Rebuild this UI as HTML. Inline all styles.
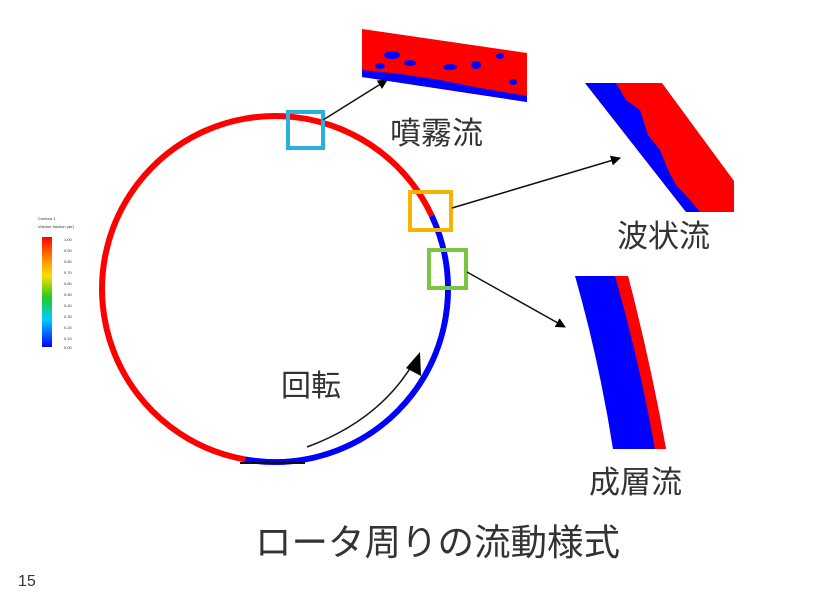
<!DOCTYPE html>
<html><head><meta charset="utf-8"><style>
html,body{margin:0;padding:0;background:#fff;width:816px;height:594px;overflow:hidden}
svg{display:block}
text{font-family:"Liberation Sans","Noto Sans CJK JP",sans-serif;fill:#333}
</style></head><body>
<svg width="816" height="594" viewBox="0 0 816 594" xmlns="http://www.w3.org/2000/svg">
<defs>
<linearGradient id="lg" x1="0" y1="0" x2="0" y2="1">
<stop offset="0" stop-color="#f00"/><stop offset="0.2" stop-color="#f80"/><stop offset="0.35" stop-color="#fd0"/>
<stop offset="0.55" stop-color="#2c2"/><stop offset="0.75" stop-color="#0cf"/><stop offset="1" stop-color="#00f"/>
</linearGradient>
<marker id="ah" markerWidth="10" markerHeight="10" refX="9" refY="5" orient="auto" markerUnits="userSpaceOnUse"><path d="M0,0 L10,5 L0,10 z" fill="#000"/></marker>
</defs>
<text x="38" y="220" font-size="4" fill="#888">Contour 1</text>
<text x="38" y="228" font-size="4" fill="#888">Volume fraction (air)</text>
<rect x="42" y="237" width="10" height="110" fill="url(#lg)"/>
<g font-size="4" fill="#888"><text x="64" y="241">1.00</text><text x="64" y="252">0.90</text><text x="64" y="263">0.80</text><text x="64" y="274">0.70</text><text x="64" y="285">0.60</text><text x="64" y="296">0.50</text><text x="64" y="307">0.40</text><text x="64" y="318">0.30</text><text x="64" y="329">0.20</text><text x="64" y="340">0.10</text><text x="64" y="349">0.00</text></g>
<path d="M245,459.4 A173,173 0 1 1 431.8,215.9" fill="none" stroke="#f00" stroke-width="6"/>
<path d="M431.8,215.9 A173,173 0 0 1 245,459.4" fill="none" stroke="#00f" stroke-width="6"/>
<line x1="240" y1="463" x2="305" y2="463" stroke="#111" stroke-width="2"/>
<path d="M307,447 Q380,420 414,362" fill="none" stroke="#111" stroke-width="1.5"/>
<path d="M420,352 L421,376 L406,368 z" fill="#000"/>
<text x="281" y="396" font-size="30">回転</text>
<rect x="288" y="112" width="35" height="36" fill="none" stroke="#2ab0e0" stroke-width="4"/>
<rect x="410" y="192" width="41" height="38" fill="none" stroke="#f5b400" stroke-width="4"/>
<rect x="429" y="250" width="37" height="38" fill="none" stroke="#7cc444" stroke-width="4"/>
<line x1="323" y1="120" x2="387" y2="80" stroke="#111" stroke-width="1.5" marker-end="url(#ah)"/>
<line x1="452" y1="208" x2="620" y2="158" stroke="#111" stroke-width="1.5" marker-end="url(#ah)"/>
<line x1="467" y1="272" x2="565" y2="327" stroke="#111" stroke-width="1.5" marker-end="url(#ah)"/>
<polygon points="362,29 527,53 527,102 362,77" fill="#f00"/>
<path d="M362,70 L400,74 L440,80 L480,88 L527,96 L527,102 L362,77z" fill="#00f"/>
<g fill="#00f"><ellipse cx="392" cy="55" rx="8" ry="4"/><ellipse cx="410" cy="63" rx="6" ry="3"/><ellipse cx="450" cy="67" rx="7" ry="3"/><ellipse cx="476" cy="65" rx="5" ry="4"/><ellipse cx="500" cy="56" rx="4" ry="3"/><ellipse cx="513" cy="82" rx="4" ry="3"/><ellipse cx="380" cy="66" rx="5" ry="3"/></g>
<text x="390" y="144" font-size="31">噴霧流</text>
<polygon points="585,83 662,83 734,181 734,212 686,212" fill="#f00"/>
<path d="M585,83 L616,83 L626,100 L640,110 L648,135 L660,150 L668,170 L676,185 L690,200 L700,212 L686,212 z" fill="#00f"/>
<text x="617" y="247" font-size="31">波状流</text>
<path d="M575,276 L628,276 Q650,360 666,449 L613,449 Q599,360 575,276z" fill="#00f"/>
<path d="M615,276 L628,276 Q650,360 666,449 L655,449 Q639,360 615,276z" fill="#f00"/>
<text x="589" y="493" font-size="31">成層流</text>
<text x="255" y="555" font-size="36.5">ロータ周りの流動様式</text>
<text x="18" y="586" font-size="16" fill="#e4e4e4">15</text>
</svg>
</body></html>
